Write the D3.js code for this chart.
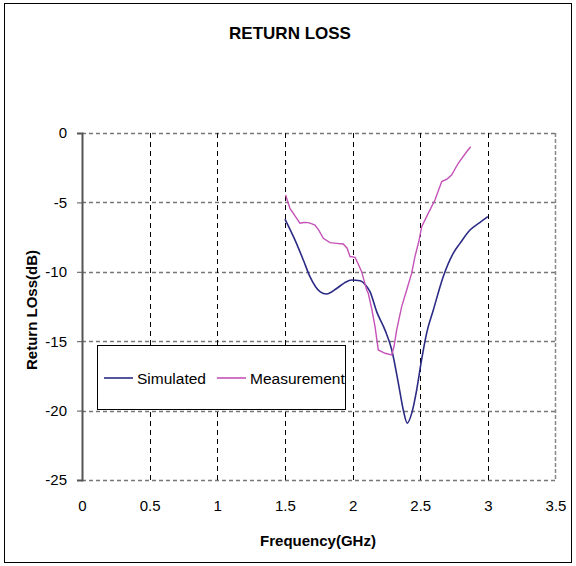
<!DOCTYPE html>
<html>
<head>
<meta charset="utf-8">
<script src="https://cdn.jsdelivr.net/npm/d3@7"></script>
<style>
  body { margin: 0; background: #fff; }
  svg { font-family: "Liberation Sans", Arial, sans-serif; }
</style>
</head>
<body>
<div id="chart"></div>
<script>
// Return loss data
var xTicks = [0, 0.5, 1, 1.5, 2, 2.5, 3, 3.5];
var yTicks = [0, -5, -10, -15, -20, -25];

var simFreq = [1.5, 1.574, 1.636, 1.685, 1.759, 1.808, 1.882, 1.94, 1.993, 2.055, 2.1, 2.129, 2.178, 2.24, 2.289, 2.338, 2.375, 2.404, 2.437, 2.474, 2.51, 2.548, 2.597, 2.67, 2.744, 2.794, 2.868, 2.94, 3.0];
var simLoss = [-6.2, -7.7, -9.15, -10.35, -11.43, -11.6, -11.2, -10.8, -10.59, -10.64, -11.0, -11.43, -12.87, -14.2, -15.6, -18.0, -19.96, -20.9, -20.2, -18.5, -16.35, -14.4, -12.75, -10.35, -8.67, -7.95, -6.99, -6.45, -6.03];

var measFreq = [1.505, 1.537, 1.587, 1.611, 1.64, 1.673, 1.7, 1.722, 1.75, 1.784, 1.833, 1.88, 1.931, 1.96, 1.981, 2.018, 2.04, 2.067, 2.104, 2.116, 2.141, 2.166, 2.19, 2.24, 2.289, 2.306, 2.326, 2.363, 2.4, 2.437, 2.461, 2.49, 2.511, 2.559, 2.609, 2.659, 2.7, 2.732, 2.781, 2.843, 2.873];
var measLoss = [-4.47, -5.43, -6.15, -6.5, -6.45, -6.46, -6.55, -6.63, -7.0, -7.59, -7.9, -7.95, -8.0, -8.3, -8.9, -8.96, -9.4, -9.99, -11.3, -11.55, -12.63, -13.95, -15.63, -15.87, -15.99, -15.4, -14.19, -12.51, -11.31, -10.1, -8.91, -7.8, -6.75, -5.79, -4.83, -3.5, -3.3, -3.03, -2.18, -1.35, -0.99];

var seriesNames = ["Simulated", "Measurement"];
var seriesColors = ["#2b2b86", "#c452b8"];

var svgWidth = 576;
var svgHeight = 566;

var margin = { top: 133, left: 82 };
var width = 555.5 - 82;
var height = 480 - 133;

var svg = d3.select("#chart")
  .append("svg")
  .attr("width", svgWidth)
  .attr("height", svgHeight);

// outer frame
svg.append("rect")
  .attr("x", 4.5)
  .attr("y", 3.5)
  .attr("width", 567)
  .attr("height", 559)
  .attr("fill", "none")
  .attr("stroke", "#000")
  .attr("stroke-width", 1);

svg.append("text")
  .attr("x", 290)
  .attr("y", 39)
  .attr("text-anchor", "middle")
  .attr("font-size", "17px")
  .attr("font-weight", "bold")
  .text("RETURN LOSS");

var chartGroup = svg.append("g")
  .attr("transform", `translate(${margin.left}, ${margin.top})`);

var xScale = d3.scaleLinear().domain([0, 3.5]).range([0, width]);
var yScale = d3.scaleLinear().domain([-25, 0]).range([height, 0]);

// horizontal grid (gray dashed), includes top and bottom frame
chartGroup.selectAll(".hgrid")
  .data(yTicks)
  .enter()
  .append("line")
  .attr("x1", 0)
  .attr("x2", width)
  .attr("y1", d => Math.round(yScale(d)) + 0.5)
  .attr("y2", d => Math.round(yScale(d)) + 0.5)
  .attr("stroke", "#777")
  .attr("stroke-width", 1.5)
  .attr("stroke-dasharray", "4,3");

// vertical grid (black dashed)
chartGroup.selectAll(".vgrid")
  .data(xTicks.slice(1, -1))
  .enter()
  .append("line")
  .attr("x1", d => Math.round(xScale(d)) + 0.5)
  .attr("x2", d => Math.round(xScale(d)) + 0.5)
  .attr("y1", 0)
  .attr("y2", height)
  .attr("stroke", "#000")
  .attr("stroke-width", 1)
  .attr("stroke-dasharray", "5,4");

// right frame
chartGroup.append("line")
  .attr("x1", width).attr("x2", width)
  .attr("y1", 0).attr("y2", height)
  .attr("stroke", "#888")
  .attr("stroke-width", 1.5)
  .attr("stroke-dasharray", "4,2");

// y axis (plain hyphen for negatives, like the original)
var yAxis = d3.axisLeft(yScale).tickValues(yTicks).tickSize(5).tickPadding(10).tickFormat(d => String(d));
var yg = chartGroup.append("g").call(yAxis);
yg.select(".domain").attr("stroke", "#555").attr("stroke-width", 2);
yg.selectAll(".tick line").attr("stroke", "#555");
yg.selectAll("text").attr("font-size", "15px").attr("fill", "#000")
  .attr("font-family", "'Liberation Sans', Arial, sans-serif");

// x axis labels
var xAxis = d3.axisBottom(xScale).tickValues(xTicks).tickSize(0).tickPadding(20).tickFormat(d => d);
var xg = chartGroup.append("g").attr("transform", `translate(0, ${height})`).call(xAxis);
xg.select(".domain").remove();
xg.selectAll("text").attr("font-size", "15px").attr("fill", "#000")
  .attr("font-family", "'Liberation Sans', Arial, sans-serif");

// lines
var simData = simFreq.map((f, i) => ({ f: f, v: simLoss[i] }));
var measData = measFreq.map((f, i) => ({ f: f, v: measLoss[i] }));

var smoothLine = d3.line()
  .x(d => xScale(d.f))
  .y(d => yScale(d.v))
  .curve(d3.curveMonotoneX);

var rawLine = d3.line()
  .x(d => xScale(d.f))
  .y(d => yScale(d.v));

chartGroup.append("path")
  .datum(simData)
  .attr("d", smoothLine)
  .attr("fill", "none")
  .attr("stroke", seriesColors[0])
  .attr("stroke-width", 1.6);

chartGroup.append("path")
  .datum(measData)
  .attr("d", rawLine)
  .attr("fill", "none")
  .attr("stroke", seriesColors[1])
  .attr("stroke-width", 1.4);

// legend
var legend = svg.append("g");
legend.append("rect")
  .attr("x", 97.5)
  .attr("y", 345.5)
  .attr("width", 248)
  .attr("height", 64)
  .attr("fill", "#fff")
  .attr("stroke", "#000");

var legendX = [104, 217];
seriesNames.forEach(function(name, i) {
  legend.append("line")
    .attr("x1", legendX[i]).attr("x2", legendX[i] + 29)
    .attr("y1", 378).attr("y2", 378)
    .attr("stroke", seriesColors[i])
    .attr("stroke-width", 1.6);
  legend.append("text")
    .attr("x", legendX[i] + 33)
    .attr("y", 384)
    .attr("font-size", "15.5px")
    .text(name);
});

// axis titles
svg.append("text")
  .attr("x", 318)
  .attr("y", 546)
  .attr("text-anchor", "middle")
  .attr("font-size", "15px")
  .attr("font-weight", "bold")
  .text("Frequency(GHz)");

svg.append("text")
  .attr("transform", "translate(37, 310) rotate(-90)")
  .attr("text-anchor", "middle")
  .attr("font-size", "15px")
  .attr("font-weight", "bold")
  .text("Return LOss(dB)");
</script>
</body>
</html>
